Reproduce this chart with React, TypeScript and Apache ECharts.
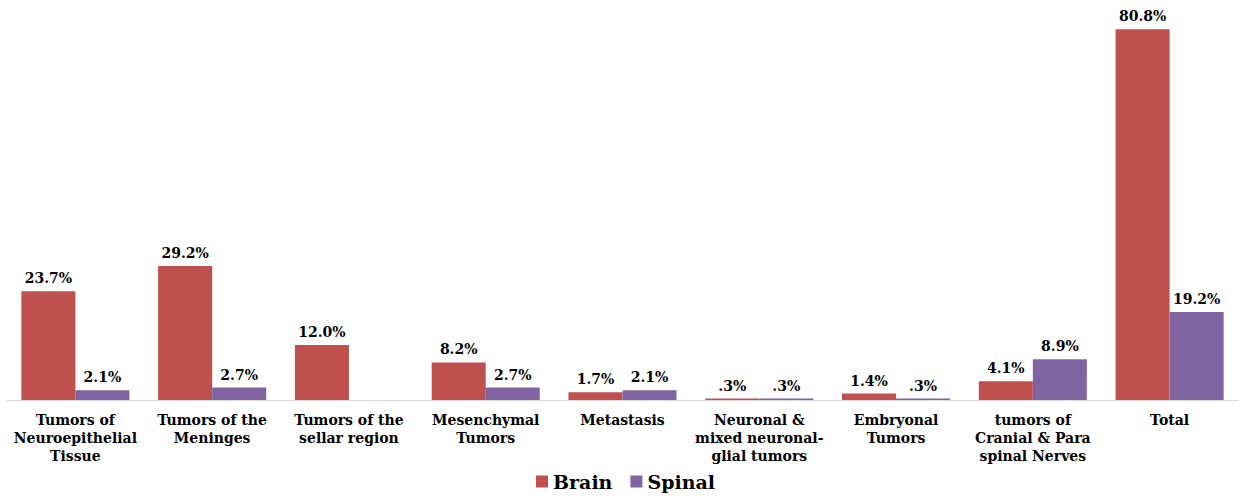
import React, { useEffect, useRef } from "react";
import * as echarts from "echarts";

const categories = [
  "Tumors of\nNeuroepithelial\nTissue",
  "Tumors of the\nMeninges",
  "Tumors of the\nsellar region",
  "Mesenchymal\nTumors",
  "Metastasis",
  "Neuronal &\nmixed neuronal-\nglial tumors",
  "Embryonal\nTumors",
  "tumors of\nCranial & Para\nspinal Nerves",
  "Total",
];
const brainValues: (number | null)[] = [23.7, 29.2, 12.0, 8.2, 1.7, 0.3, 1.4, 4.1, 80.8];
const spinalValues: (number | null)[] = [2.1, 2.7, null, 2.7, 2.1, 0.3, 0.3, 8.9, 19.2];

const FONT = "DejaVu Serif";

function fmt(v: number): string {
  const s = v.toFixed(1);
  return (v < 1 ? s.replace(/^0/, "") : s) + "%";
}

export default function App() {
  const ref = useRef<HTMLDivElement>(null);
  useEffect(() => {
    if (!ref.current) return;
    const chart = echarts.init(ref.current, null, { renderer: "svg" });
    const label = {
      show: true,
      position: "top",
      distance: 6,
      fontFamily: FONT,
      fontWeight: "bold",
      fontSize: 14,
      color: "#000",
      formatter: (p: any) => (p.value == null ? "" : fmt(p.value)),
    };
    chart.setOption({
      animation: false,
      backgroundColor: "#fff",
      textStyle: { fontFamily: FONT },
      grid: { left: 7, right: 5, top: 10, bottom: 102, containLabel: false },
      legend: {
        bottom: 6,
        left: 531,
        itemWidth: 12,
        itemHeight: 12,
        itemGap: 18,
        icon: "rect",
        textStyle: { fontFamily: FONT, fontWeight: "bold", fontSize: 19, color: "#000" },
        data: ["Brain", "Spinal"],
      },
      xAxis: {
        type: "category",
        data: categories,
        axisLine: { show: true, lineStyle: { color: "#D9D9D9", width: 1 } },
        axisTick: { show: false },
        axisLabel: {
          interval: 0,
          margin: 11,
          fontFamily: FONT,
          fontWeight: "bold",
          fontSize: 14,
          lineHeight: 18,
          color: "#000",
        },
      },
      yAxis: {
        type: "value",
        min: 0,
        max: 85,
        show: false,
        splitLine: { show: false },
      },
      series: [
        {
          name: "Brain",
          type: "bar",
          data: brainValues,
          barGap: "0%",
          barCategoryGap: "21%",
          itemStyle: { color: "#C0504D" },
          label,
        },
        {
          name: "Spinal",
          type: "bar",
          data: spinalValues,
          barGap: "0%",
          barCategoryGap: "21%",
          itemStyle: { color: "#8064A2" },
          label,
        },
      ],
    });
    return () => chart.dispose();
  }, []);
  return (
    <div
      ref={ref}
      style={{ position: "fixed", left: 0, top: 0, width: 1243, height: 502 }}
    />
  );
}
